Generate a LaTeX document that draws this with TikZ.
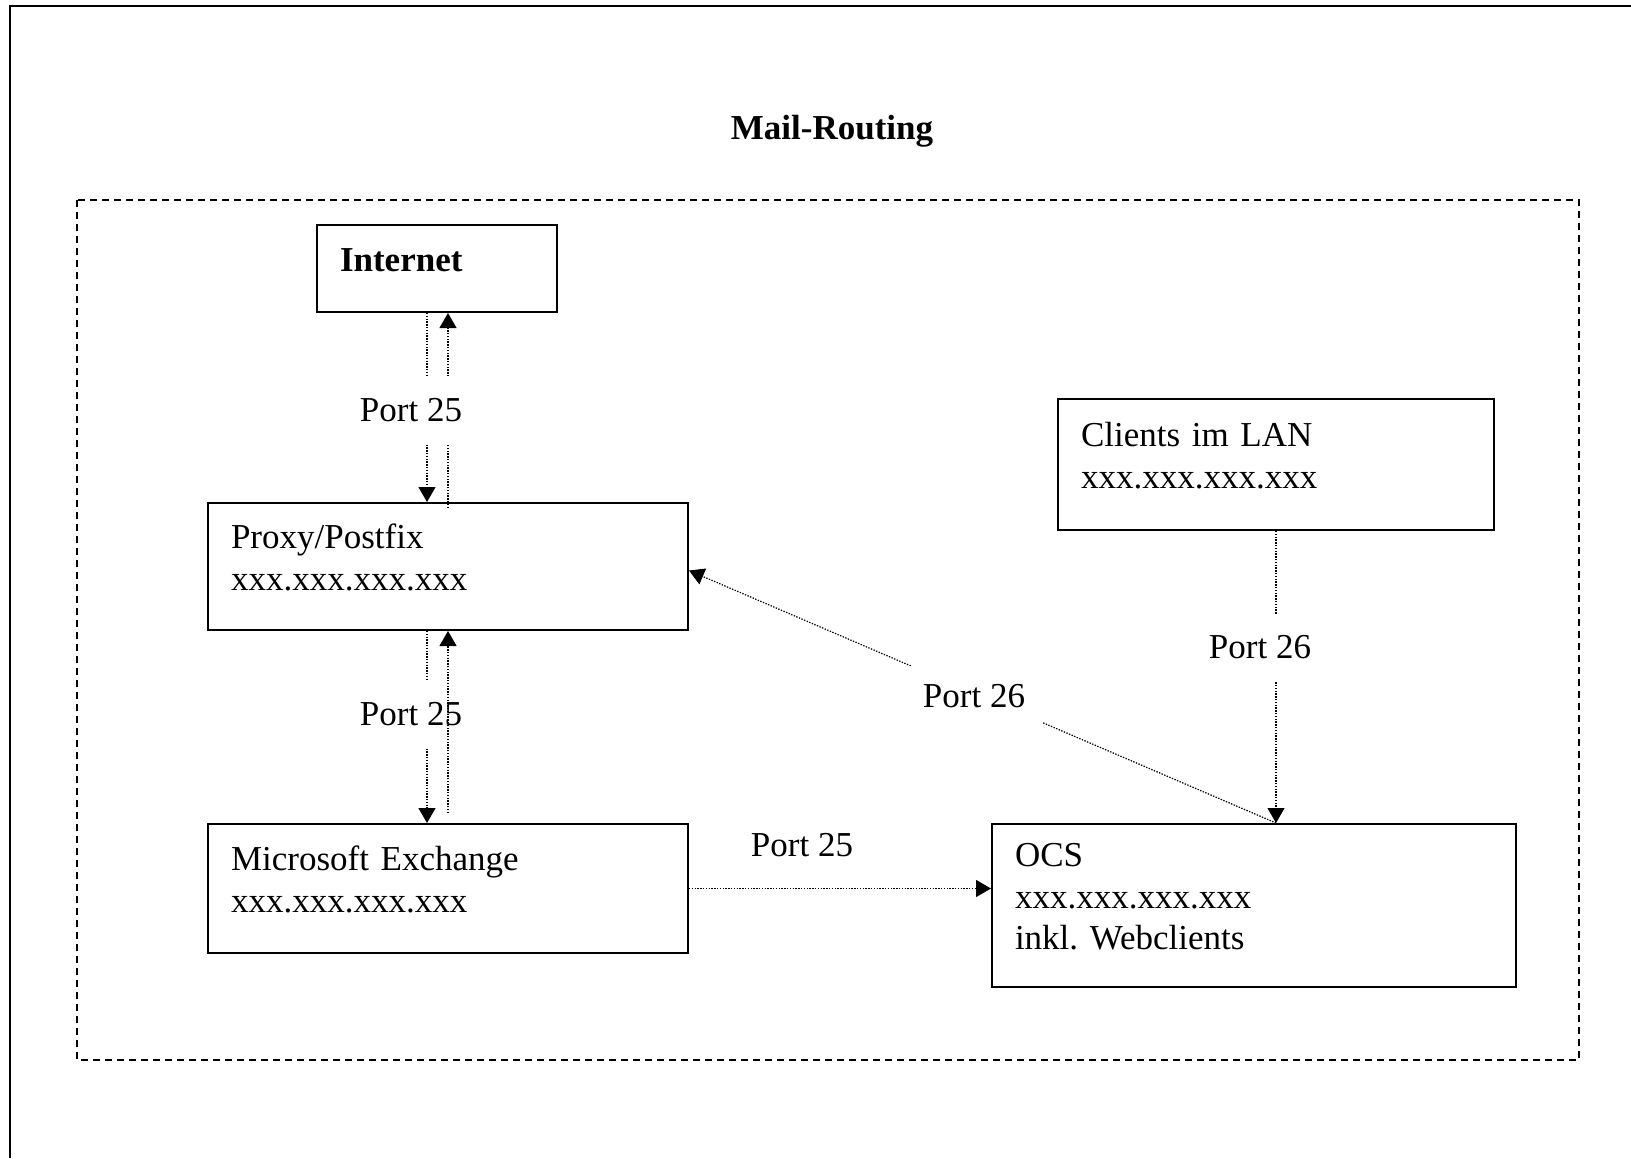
\documentclass[tikz,border=0pt]{standalone}
\usepackage{fontspec}
\setmainfont{Liberation Serif}
\usetikzlibrary{arrows.meta,calc}
\frenchspacing

\begin{document}
\begin{tikzpicture}[x=0.5pt,y=-0.5pt,
  every node/.style={font=\fontsize{17.5}{20.8}\selectfont},
  box/.style={draw,line width=1pt,anchor=north west,align=left,inner xsep=11.5pt,text height=3pt},
  link/.style={line width=0.6pt,dash pattern=on 0.7pt off 0.7pt,-{Triangle[length=7.5pt,width=8.5pt]}},
  port/.style={fill=white,inner sep=0pt}]
  \useasboundingbox (0,0) rectangle (1631,1158);

  % page frame and network area
  \draw[line width=1pt] (10,1158) -- (10,6) -- (1631,6);
  \draw[line width=0.9pt,dash pattern=on 3.5pt off 2.5pt] (77,200) rectangle (1579,1060);

  \node (title) at (832,131) {\bfseries Mail-Routing};

  \node[box,text width=97pt,minimum height=43.5pt] (internet) at (316,224) {\textbf{Internet}};
  \node[box,text width=217pt,minimum height=63.5pt] (proxy) at (207,502) {Proxy/Postfix\\xxx.xxx.xxx.xxx};
  \node[box,text width=217pt,minimum height=64.5pt] (exchange) at (207,823) {Microsoft Exchange\\xxx.xxx.xxx.xxx};
  \node[box,text width=239pt,minimum height=81.5pt] (ocs) at (991,823) {OCS\\xxx.xxx.xxx.xxx\\inkl. Webclients};
  \node[box,text width=195pt,minimum height=65.5pt] (clients) at (1057,398) {Clients im LAN\\xxx.xxx.xxx.xxx};

  \coordinate (ocsin) at (clients.south |- ocs.north);

  \draw[link] ($(internet.south)+(-10,0)$) -- ($(proxy.north)+(-21,0)$);
  \draw[link] ($(proxy.north)+(0,6)$) -- (proxy.north |- internet.south);
  \draw[link] ($(proxy.south)+(-21,0)$) -- ($(exchange.north)+(-21,0)$);
  \draw[link] (exchange.east) -- (ocs.west |- exchange.east);
  \draw[link] (clients.south) -- (ocsin);
  \draw[link] (ocsin) -- ($(proxy.east)+(0,4)$);

  \node[port,minimum height=34pt] (p25a) at (411,410) {Port 25};
  \node[port,minimum height=34.5pt] (p25b) at (411,714) {Port 25};
  \node[port] (p25c) at (802,845) {Port 25};
  \node[port,minimum width=69pt,minimum height=30pt] (p26a) at (974,696) {Port 26};
  \node[port,minimum height=33.5pt] (p26b) at (1260,647) {Port 26};

  \draw[link] ($(exchange.north)+(0,-10)$) -- (proxy.south);
\end{tikzpicture}
\end{document}
